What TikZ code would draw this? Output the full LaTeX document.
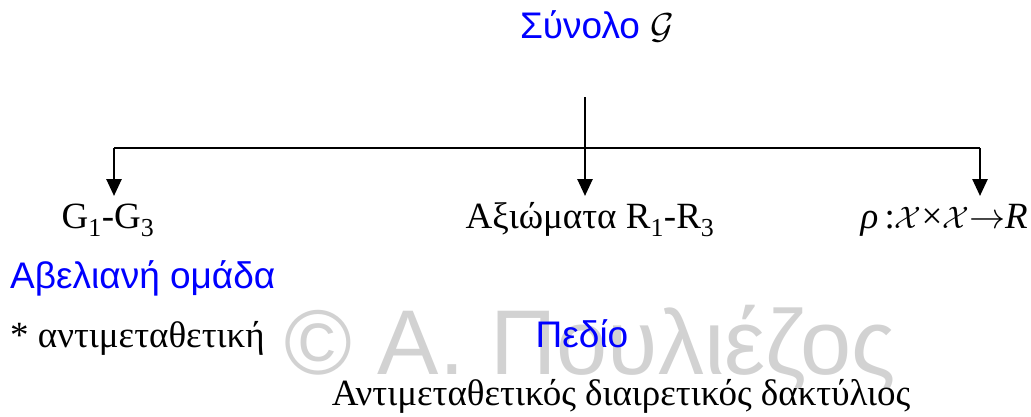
\documentclass[tikz,border=0pt]{standalone}
\usepackage{fontspec}
\setmainfont{Liberation Serif}
\newfontfamily\arial{Liberation Sans}
\usetikzlibrary{arrows.meta}
\definecolor{wm}{HTML}{D2D2D2}
\definecolor{bl}{HTML}{0000FF}
\newcommand{\scrG}{\scalebox{1.45}{$\mathcal{G}$}}
\newcommand{\scrX}{\scalebox{1.25}{$\mathcal{X}$}}
\newcommand{\bigto}{\scalebox{1.45}{$\rightarrow$}}
\begin{document}
\begin{tikzpicture}[x=1pt,y=-1pt,
  blu/.style={text=bl,font=\arial\fontsize{37}{39}\selectfont,inner sep=0pt,anchor=base},
  blk/.style={text=black,font=\fontsize{37}{39}\selectfont,inner sep=0pt,anchor=base},
  conn/.style={line width=2.6pt},
  arr/.style={line width=2.6pt,-{Triangle[width=15pt,length=17pt]}}]
\useasboundingbox (0,0) rectangle (1031,416);
\node[text=wm,font=\arial\fontsize{92}{94}\selectfont,inner sep=0pt,anchor=base] (wmk) at (590,374) {© Α. Πουλιέζος};
\node[blu] (top) at (597,38) {Σύνολο \textcolor{black}{\scrG}};
\coordinate (t) at (585,97);
\coordinate (jm) at (585,148);
\coordinate (jl) at (114,148);
\coordinate (jr) at (980,148);
\coordinate (al) at (114,196);
\coordinate (am) at (585,196);
\coordinate (ar) at (980,196);
\draw[conn] (t) -- (jm);
\draw[conn] (jl) -- (jr);
\draw[arr] (jl) -- (al);
\draw[arr] (jm) -- (am);
\draw[arr] (jr) -- (ar);
\node[blk] (g) at (108,228) {G\textsubscript{1}-G\textsubscript{3}};
\node[blk] (ax) at (590,228) {Αξιώματα R\textsubscript{1}-R\textsubscript{3}};
\node[blk,anchor=base east] (rho) at (1028,228) {\textit{ρ}\,:\scrX{}×\scrX{}\bigto{}\textit{R}};
\node[blu,anchor=base west] (ab) at (10,288) {Αβελιανή ομάδα};
\node[blk,anchor=base west] (an) at (10,347) {* αντιμεταθετική};
\node[blu] (pe) at (582,347) {Πεδίο};
\node[blk] (ad) at (621,405) {Αντιμεταθετικός διαιρετικός δακτύλιος};
\end{tikzpicture}
\end{document}
